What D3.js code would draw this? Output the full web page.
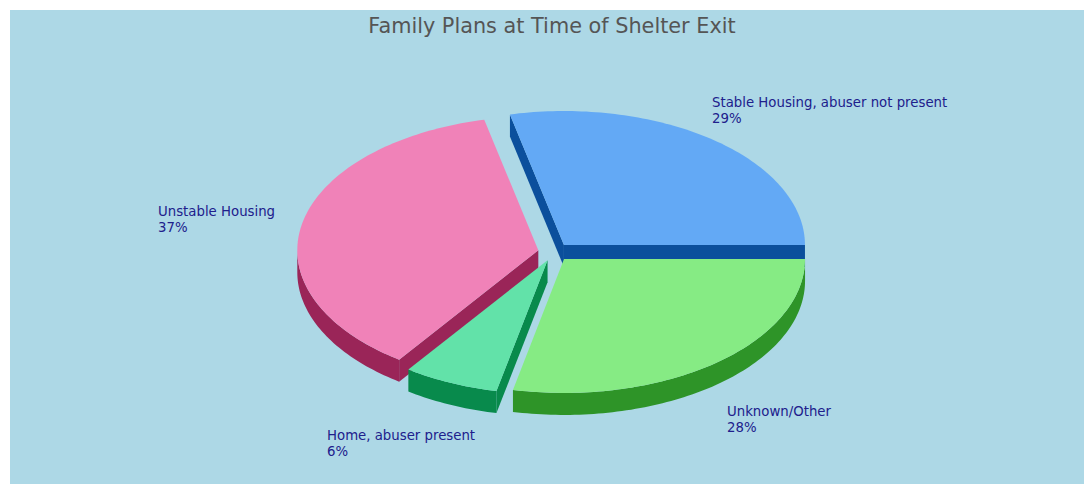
<!DOCTYPE html>
<html>
<head>
<meta charset="utf-8">
<script src="https://cdn.jsdelivr.net/npm/d3@7"></script>
<style>
  html, body { margin: 0; padding: 0; background: #fff; }
  svg { display: block; }
</style>
</head>
<body>
<div id="chart"></div>
<script>
// 3D exploded pie: family plans at time of shelter exit

const categories = [
  "Stable Housing, abuser not present",
  "Unstable Housing",
  "Home, abuser present",
  "Unknown/Other"
];
// shares; labels show them rounded
const shares     = [28.6, 36.6, 6.4, 28.4];
const topColors  = ["#63a9f5", "#f082b8", "#62e2a9", "#86eb84"];
const sideColors = ["#0b4f9c", "#9a2558", "#088a4c", "#2e9428"];

// label anchors (layout only): left x, first baseline
const labelAt = [[712, 107], [158, 216], [327, 440], [727, 416]];

const W = 1084, H = 484;
const C  = { x: 554, y: 252 };   // pie centre before explode
const rx = 241, ry = 134;        // ellipse radii of the top face
const depth = 22;                // thickness of the pie
const explode = 16;

const svg = d3.select("#chart").append("svg")
  .attr("width", W).attr("height", H);

svg.append("rect")
  .attr("x", 10).attr("y", 10)
  .attr("width", W - 10).attr("height", H - 10)
  .attr("fill", "#add8e6");

svg.append("text")
  .attr("x", 552).attr("y", 33)
  .attr("text-anchor", "middle")
  .attr("font-family", "DejaVu Sans")
  .attr("font-size", "20.8px")
  .attr("fill", "#555")
  .text("Family Plans at Time of Shelter Exit");

const rows = categories.map((c, i) => ({ name: c, v: shares[i], i }));

// counter-clockwise from 3 o'clock
const pie = d3.pie().sort(null).value(d => d.v)
  .startAngle(Math.PI / 2).endAngle(Math.PI / 2 - 2 * Math.PI);

const line = d3.line();

function pt(cx, cy, t, dz) {
  return [cx + rx * Math.cos(t), cy - ry * Math.sin(t) + dz];
}
function arcPts(cx, cy, a, b, dz) {
  const n = Math.max(2, Math.ceil(Math.abs(b - a) / 0.02));
  return d3.range(n + 1).map(k => pt(cx, cy, a + (b - a) * k / n, dz));
}

const slices = pie(rows).map(a => {
  const t0 = Math.PI / 2 - a.startAngle;
  const t1 = Math.PI / 2 - a.endAngle;
  const m  = (t0 + t1) / 2;
  return {
    d: a.data, t0, t1, m,
    cx: C.x + explode * Math.cos(m),
    cy: C.y - explode * (ry / rx) * Math.sin(m)
  };
});

// back to front
const order = slices.slice().sort((a, b) => Math.sin(b.m) - Math.sin(a.m));

const pieG = svg.append("g");

order.forEach(s => {
  const g = pieG.append("g");
  const side = sideColors[s.d.i];
  const { cx, cy } = s;

  // radial faces that face the viewer
  const faces = [];
  if (Math.cos(s.t0) > 0) faces.push(s.t0);
  if (Math.cos(s.t1) < 0) faces.push(s.t1);
  faces.forEach(t => {
    g.append("path")
      .attr("d", line([[cx, cy], pt(cx, cy, t, 0), pt(cx, cy, t, depth), [cx, cy + depth]]) + "Z")
      .attr("fill", side);
  });

  // outer wall on the front half
  const lo = Math.max(s.t0, Math.PI), hi = Math.min(s.t1, 2 * Math.PI);
  if (lo < hi) {
    const wall = arcPts(cx, cy, lo, hi, 0).concat(arcPts(cx, cy, hi, lo, depth));
    g.append("path").attr("d", line(wall) + "Z").attr("fill", side);
  }

  // top face
  const top = [[cx, cy]].concat(arcPts(cx, cy, s.t0, s.t1, 0));
  g.append("path").attr("d", line(top) + "Z").attr("fill", topColors[s.d.i]);
});

// labels
slices.forEach(s => {
  const [lx, ly] = labelAt[s.d.i];
  const t = svg.append("text")
    .attr("font-family", "DejaVu Sans")
    .attr("font-size", "13.3px")
    .attr("fill", "#20208c");
  t.append("tspan").attr("x", lx).attr("y", ly).text(s.d.name);
  t.append("tspan").attr("x", lx).attr("y", ly + 16).text(Math.round(s.d.v) + "%");
});
</script>
</body>
</html>
